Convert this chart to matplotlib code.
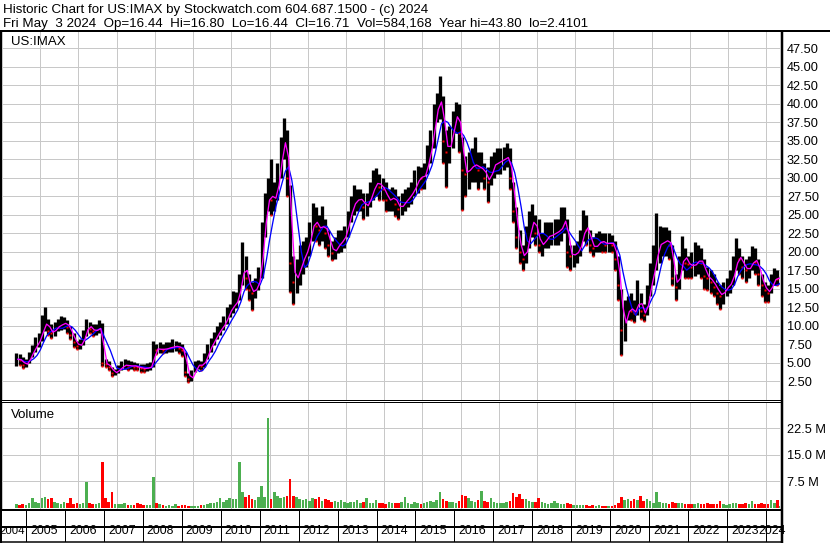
import numpy as np
import pandas as pd
import matplotlib
matplotlib.use("Agg")
import matplotlib.pyplot as plt
from matplotlib.lines import Line2D

plt.rcParams['font.family'] = ['Liberation Sans', 'DejaVu Sans']

# ---------------- data (monthly, May 2004 .. May 2024) ----------------
first_year, first_month = 2004, 5

close = [
    5.5, 5.4, 4.7, 5.0, 6.0, 6.8, 7.6, 8.3,                                   # 2004 May-Dec
    10.0, 10.5, 9.3, 9.0, 9.8, 10.0, 10.3, 10.4, 9.8, 8.8, 7.8, 7.3,           # 2005
    7.5, 8.8, 10.2, 9.6, 9.3, 9.5, 9.8, 5.0, 4.8, 4.5, 3.6, 3.8,               # 2006
    4.2, 4.6, 4.8, 4.5, 4.7, 4.5, 4.4, 4.3, 4.2, 4.4, 4.5, 7.0,                # 2007
    6.8, 6.9, 6.8, 7.0, 7.1, 7.2, 7.3, 7.0, 6.8, 3.8, 2.8, 3.2,                # 2008
    4.6, 4.8, 4.6, 5.6, 6.8, 7.6, 8.4, 9.2, 9.8, 10.4, 11.5, 12.5,             # 2009
    12.8, 13.6, 15.8, 18.5, 16.5, 14.8, 14.5, 15.3, 16.5, 22.0, 26.0, 28.0,    # 2010
    27.0, 27.5, 30.5, 34.0, 35.5, 30.0, 18.5, 16.0, 17.0, 18.5, 19.5, 20.5,    # 2011
    22.5, 24.5, 23.5, 23.0, 23.8, 22.5, 21.0, 19.8, 20.5, 21.2, 21.5, 22.5,    # 2012
    24.5, 26.0, 27.0, 27.0, 27.2, 26.0, 26.5, 27.8, 29.0, 29.5, 28.8, 28.5,    # 2013
    27.0, 27.0, 27.5, 26.5, 25.8, 26.5, 27.0, 27.5, 28.2, 29.0, 30.2, 30.0,    # 2014
    30.5, 33.0, 34.5, 38.5, 40.0, 40.5, 35.0, 33.5, 35.0, 37.5, 39.0, 36.0,    # 2015
    31.0, 30.5, 31.5, 31.5, 32.0, 31.0, 31.5, 30.0, 29.5, 31.5, 32.0, 32.0,    # 2016
    32.5, 32.5, 33.0, 30.0, 25.5, 22.0, 20.0, 19.0, 21.0, 23.5, 24.5, 22.5,    # 2017
    21.0, 21.0, 22.0, 22.2, 22.3, 22.7, 22.8, 23.5, 24.8, 20.0, 19.4, 19.8,    # 2018
    20.0, 21.5, 23.5, 23.0, 21.0, 20.5, 21.0, 21.5, 21.3, 21.0, 21.3, 21.0,    # 2019
    19.0, 15.5, 9.5, 11.3, 12.6, 12.0, 11.8, 14.0, 12.0, 11.5, 14.0, 16.5,     # 2020
    18.0, 21.0, 21.0, 21.5, 21.5, 21.0, 16.5, 15.3, 17.5, 19.9, 18.5, 18.3,    # 2021
    18.0, 18.5, 19.0, 18.5, 16.8, 16.5, 16.0, 15.3, 14.5, 14.0, 15.0, 15.3,    # 2022
    16.0, 17.5, 19.5, 19.0, 18.0, 17.5, 18.0, 19.0, 18.7, 17.0, 15.5, 14.8,    # 2023
    14.5, 16.0, 16.5, 16.4, 16.71,                                             # 2024 Jan-May
]

high = [
    6.3, 6.2, 5.8, 5.6, 6.5, 7.4, 8.5, 9.0,
    11.5, 12.6, 11.0, 10.2, 10.5, 11.0, 11.3, 11.2, 10.8, 10.0, 9.0, 8.0,
    8.3, 9.5, 11.0, 10.6, 10.2, 10.2, 10.8, 10.4, 5.5, 5.2, 4.5, 4.2,
    4.7, 5.2, 5.6, 5.4, 5.3, 5.1, 5.0, 4.8, 4.8, 5.0, 5.1, 8.0,
    7.6, 7.8, 7.5, 7.8, 7.9, 8.3, 8.0, 7.8, 7.6, 6.5, 3.6, 4.0,
    5.2, 5.4, 5.3, 6.3, 7.5, 8.4, 9.2, 10.0, 10.6, 11.4, 12.6, 13.0,
    14.7, 14.6, 17.0, 21.4, 19.5, 17.0, 16.0, 16.5, 18.0, 24.0, 28.0, 30.0,
    32.5, 29.5, 32.0, 35.5, 38.1, 36.5, 29.0, 19.5, 19.0, 21.0, 21.5, 22.0,
    24.0, 26.6, 26.0, 25.0, 26.2, 24.5, 23.0, 21.5, 22.0, 23.0, 23.0, 23.5,
    25.5, 27.5, 29.1, 28.5, 28.5, 28.0, 28.0, 29.5, 31.0, 31.4, 30.5, 30.0,
    29.5, 28.5, 28.8, 28.5, 27.5, 28.0, 28.5, 28.8, 29.5, 31.0, 31.6, 31.5,
    32.0, 34.5, 36.5, 40.0, 41.5, 43.8, 41.0, 36.5, 37.0, 39.0, 40.3, 40.0,
    35.5, 33.0, 33.5, 34.0, 35.5, 33.5, 33.5, 32.0, 31.5, 33.0, 33.5, 34.0,
    34.0, 34.2, 34.7, 34.0, 29.5, 26.0, 23.0, 21.0, 23.5, 25.5, 26.5, 25.0,
    24.5, 22.5, 24.1, 24.0, 24.0, 24.5, 24.5, 26.0, 26.0, 24.5, 21.0, 21.0,
    21.5, 23.0, 25.6, 25.0, 23.0, 22.0, 22.5, 22.8, 22.5, 22.5, 22.5, 22.3,
    21.5, 19.5, 15.0, 13.5, 14.0, 14.5, 13.5, 16.2, 14.5, 13.0, 15.5, 18.5,
    21.0, 25.3, 23.5, 23.3, 23.3, 23.0, 21.0, 17.0, 19.5, 22.1, 20.5, 19.5,
    20.0, 21.4, 21.0, 20.5, 19.0, 18.0, 17.5, 17.0, 16.0, 15.5, 16.0, 16.5,
    17.5, 19.5, 21.9, 20.5, 19.5, 19.0, 19.5, 20.8, 20.5, 19.0, 17.0, 16.0,
    15.5, 17.0, 17.8, 17.5, 16.8,
]

low = [
    4.6, 4.7, 4.3, 4.4, 5.0, 5.8, 6.5, 7.2,
    8.0, 9.3, 8.8, 8.4, 8.7, 9.3, 9.5, 9.6, 9.0, 8.2, 7.2, 6.9,
    6.9, 7.4, 8.7, 9.0, 8.6, 8.8, 9.0, 4.6, 4.5, 4.0, 3.3, 3.4,
    3.7, 4.1, 4.2, 4.1, 4.2, 4.0, 4.0, 3.8, 3.8, 3.9, 4.0, 4.4,
    6.2, 6.3, 6.3, 6.4, 6.5, 6.5, 6.6, 6.3, 6.0, 3.2, 2.41, 2.6,
    3.8, 4.2, 4.0, 4.5, 5.5, 6.5, 7.4, 8.2, 8.8, 9.4, 10.2, 11.2,
    11.8, 12.4, 13.5, 15.5, 15.0, 13.5, 12.2, 13.8, 14.8, 16.5, 22.0, 25.5,
    25.0, 25.5, 27.0, 30.0, 32.5, 27.5, 14.6, 12.9, 14.5, 15.5, 17.0, 18.0,
    19.5, 21.5, 21.5, 21.0, 21.5, 20.5, 19.5, 18.9, 19.0, 19.8, 20.0, 20.5,
    22.0, 24.0, 25.0, 25.5, 25.5, 24.4, 24.8, 26.0, 27.0, 27.5, 27.0, 27.0,
    25.5, 25.5, 25.5, 24.8, 24.5, 25.0, 25.5, 26.0, 26.5, 27.5, 28.0, 28.5,
    28.5, 30.5, 32.0, 34.0, 37.5, 38.0, 32.0, 28.7, 32.0, 34.0, 36.0, 33.5,
    25.7, 27.5, 28.5, 29.5, 29.5, 28.5, 29.5, 28.5, 26.7, 29.0, 30.0, 30.5,
    30.5, 31.0, 31.5, 28.5, 24.0, 20.5, 18.5, 17.6, 18.5, 20.5, 22.0, 21.0,
    20.0, 19.5, 20.5, 20.5, 21.0, 21.0, 21.0, 21.5, 22.5, 18.0, 17.6, 18.0,
    18.5, 19.5, 21.5, 21.0, 20.0, 19.5, 20.0, 20.0, 20.0, 20.0, 20.0, 20.0,
    17.5, 13.5, 6.1, 8.0, 10.8, 10.8, 10.5, 11.5, 11.0, 10.7, 11.5, 14.0,
    15.5, 17.5, 18.5, 19.5, 19.5, 19.0, 15.5, 13.5, 15.0, 17.5, 16.5, 16.5,
    16.5, 16.8, 17.0, 16.5, 15.0, 14.8, 14.5, 14.0, 13.0, 12.3, 13.0, 14.0,
    14.5, 15.5, 17.5, 17.0, 16.5, 16.0, 16.5, 17.5, 17.0, 15.5, 14.0, 13.3,
    13.3, 14.5, 15.5, 15.5, 16.44,
]

volume_m = [  # millions of shares
    1.2, 0.8, 1.0, 0.7, 1.5, 2.7, 1.8, 1.5,
    2.8, 3.0, 2.5, 2.9, 1.8, 1.5, 1.2, 1.6, 1.4, 2.7, 1.2, 1.5,
    1.0, 1.5, 7.2, 1.4, 1.0, 1.2, 1.5, 13.0, 2.7, 1.6, 4.6, 1.2,
    1.0, 1.2, 1.4, 0.8, 0.7, 0.9, 1.5, 1.2, 0.8, 0.7, 0.9, 8.7,
    1.4, 1.0, 0.8, 0.6, 0.7, 0.5, 1.0, 0.6, 0.7, 0.9, 0.6, 0.5,
    0.6, 0.5, 0.7, 0.8, 1.0, 1.3, 1.5, 1.6, 2.7, 1.8, 2.2, 2.8,
    2.4, 2.6, 13.0, 4.6, 3.2, 3.7, 2.5, 2.2, 3.0, 6.1, 3.0, 25.5,
    2.5, 4.6, 3.5, 2.8, 3.0, 3.4, 8.1, 3.5, 3.0, 2.5, 2.2, 2.6,
    2.0, 2.8, 2.5, 3.0, 2.0, 2.4, 2.2, 1.8, 2.0, 1.7, 2.3, 1.6,
    1.4, 1.6, 1.8, 2.1, 1.5, 1.7, 2.7, 1.4, 1.5, 2.3, 1.3, 1.5,
    1.2, 1.6, 1.4, 1.5, 1.3, 1.7, 3.0, 1.4, 1.2, 1.6, 1.3, 1.0,
    1.4, 1.8, 2.0, 1.6, 2.2, 4.6, 2.5, 2.0, 1.8, 1.7, 1.5, 2.0,
    3.7, 3.5, 2.7, 2.0, 1.8, 2.2, 4.9, 2.0, 1.8, 2.8, 1.6, 1.5,
    1.4, 1.5, 1.8, 2.0, 4.3, 3.0, 3.9, 2.6, 2.4, 2.0, 1.8, 1.6,
    2.7, 1.6, 1.4, 1.2, 1.5, 1.9, 1.3, 1.1, 1.2, 1.5, 1.0, 0.9,
    0.8, 0.7, 0.9, 0.8, 0.6, 0.7, 0.6, 0.8, 0.6, 0.5, 0.6, 0.5,
    0.9, 1.5, 3.0, 2.2, 2.4, 2.0, 2.5, 2.3, 3.5, 2.0, 2.4, 1.9,
    1.5, 4.6, 1.8, 1.3, 1.4, 1.2, 1.6, 1.5, 1.4, 1.3, 1.2, 1.1,
    1.2, 1.0, 1.3, 1.1, 1.0, 1.4, 1.2, 1.0, 1.1, 2.0, 1.2, 0.9,
    1.1, 1.3, 1.4, 1.0, 1.2, 1.5, 1.1, 2.0, 1.2, 1.0, 1.4, 1.1,
    1.2, 2.3, 1.3, 2.2, 0.6,
]

year_labels = [str(y) for y in range(2004, 2025)]
price_ticks = [2.5 * i for i in range(1, 20)]
vol_ticks = [7.5, 15.0, 22.5]
vol_tick_labels = ["7.5 M", "15.0 M", "22.5 M"]
symbol = "US:IMAX"
title_line1 = "Historic Chart for US:IMAX by Stockwatch.com 604.687.1500 - (c) 2024"
title_line2 = ("Fri May  3 2024  Op=16.44  Hi=16.80  Lo=16.44  Cl=16.71  "
               "Vol=584,168  Year hi=43.80  lo=2.4101")

# ---------------- derived series ----------------
n = len(close)
idx = np.arange(n)
t0 = first_year + (first_month - 1 + idx) / 12.0
t_mid = t0 + 1 / 24.0
t_end = t0 + 1 / 12.0
s = pd.Series(close)
ma_short = s.rolling(2, min_periods=1).mean()
ma_long = s.rolling(5, min_periods=1).mean()
prev = s.shift(1).fillna(s.iloc[0])
up = (s >= prev).values

W, H = 830, 543
XMIN, XMAX = 2004.384, 2024.358
GRID = '#c8c8c8'
PX = 0.72  # points per pixel
YEAR_PX = 778 / (XMAX - XMIN)

fig = plt.figure(figsize=(W / 100, H / 100), dpi=100)
fig.patch.set_facecolor('white')


def box(x0, y0, x1, y1):
    return [x0 / W, 1 - y1 / H, (x1 - x0) / W, (y1 - y0) / H]


def fline(x0, y0, x1, y1, lw):
    fig.add_artist(Line2D([x0 / W, x1 / W], [1 - y0 / H, 1 - y1 / H],
                          transform=fig.transFigure, color='black', lw=lw * PX,
                          solid_capstyle='butt'))


years_num = [int(y) for y in year_labels]

# ---------------- price panel ----------------
ax = fig.add_axes(box(2, 32, 780, 400))
ax.set_xlim(XMIN, XMAX)
ax.set_ylim(0, 49.7)
ax.set_yticks(price_ticks)
ax.set_yticklabels([f"{v:.2f}" for v in price_ticks])
ax.set_xticks(years_num)
ax.set_xticklabels([])
ax.yaxis.tick_right()
ax.tick_params(axis='both', length=0)
ax.tick_params(axis='y', labelsize=9.2, pad=5, colors='black')
ax.grid(True, color=GRID, lw=1 * PX)
ax.set_axisbelow(True)
for sp in ax.spines.values():
    sp.set_visible(False)
ax.spines['bottom'].set_visible(True)
ax.spines['bottom'].set_linewidth(1 * PX)

ax.vlines(t_mid, low, high, color='black', lw=3.3 * PX, zorder=2)
down_idx = ~up
ax.plot(t_mid[down_idx], np.array(close)[down_idx], linestyle='none', marker='s',
        ms=2.0, color='red', mec='none', zorder=3)
ax.plot(t_mid[down_idx], np.array(low)[down_idx], linestyle='none', marker='s',
        ms=2.0, color='red', mec='none', zorder=3)
ax.plot(t_end, ma_long, color='#0000ff', lw=1.3 * PX, zorder=4)
ax.plot(t_end, ma_short, color='#ff00ff', lw=1.3 * PX, zorder=5)
ax.text(9 / 778, 1 - 13 / 368, symbol, transform=ax.transAxes, fontsize=9.5,
        va='baseline', ha='left')

# ---------------- volume panel ----------------
axv = fig.add_axes(box(2, 402, 780, 510))
axv.set_xlim(XMIN, XMAX)
axv.set_ylim(-0.6, 30.0)
axv.set_yticks(vol_ticks)
axv.set_yticklabels(vol_tick_labels)
axv.set_xticks(years_num)
axv.set_xticklabels([])
axv.yaxis.tick_right()
axv.tick_params(axis='both', length=0)
axv.tick_params(axis='y', labelsize=9.2, pad=5)
axv.grid(True, color=GRID, lw=1 * PX)
axv.set_axisbelow(True)
for sp in axv.spines.values():
    sp.set_visible(False)
axv.spines['top'].set_visible(True)
axv.spines['top'].set_linewidth(1 * PX)
vcols = np.where(up, '#4caf50', '#ff0000')
axv.bar(t_mid, volume_m, width=0.8 / 12.0, color=vcols, edgecolor='none', zorder=2)
axv.text(9 / 778, 1 - 16 / 108, "Volume", transform=axv.transAxes, fontsize=9.5,
         va='baseline', ha='left')

# ---------------- date strip ----------------
axd = fig.add_axes(box(2, 510, 780, 542))
axd.set_xlim(XMIN, XMAX)
axd.set_ylim(0, 1)
axd.axis('off')
axd.vlines([y for y in years_num if XMIN < y < XMAX], 0, 1, color='black', lw=1 * PX)
for i, (y, lab) in enumerate(zip(years_num, year_labels)):
    fs = 8.9
    if i == 0:
        xpos, ha, fs = (y + 1) - 1.0 / YEAR_PX, 'right', 8.2
    elif i == len(years_num) - 1:
        xpos, ha = XMAX + 5.5 / YEAR_PX, 'right'
    else:
        xpos, ha = y + 4 / YEAR_PX, 'left'
    axd.text(xpos, 0.24, lab, ha=ha, va='baseline', fontsize=fs, clip_on=False)

# ---------------- frame lines ----------------
fline(0, 30.8, W, 30.8, 2)          # under header
fline(1, 31, 1, H, 2)               # left border
fline(781.5, 31, 781.5, H, 2.5)     # right border
fline(0, 510, 781, 510, 2)          # bottom of volume panel
fline(0, 527, 781, 527, 2)          # date strip divider
fline(0, 541.5, 781, 541.5, 1.5)    # bottom

fig.text(3 / W, 1 - 13.3 / H, title_line1, fontsize=9.65, va='baseline', ha='left')
fig.text(3 / W, 1 - 26.7 / H, title_line2, fontsize=9.65, va='baseline', ha='left')

fig.savefig("out.png", dpi=100, facecolor='white')
